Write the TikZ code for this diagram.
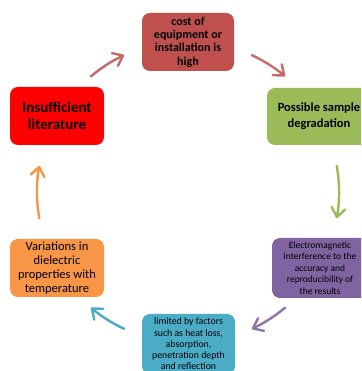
\documentclass[tikz,border=0pt]{standalone}
\usepackage{fontspec}
\setmainfont{Carlito}
\usetikzlibrary{arrows.meta,calc}
\definecolor{cCost}{HTML}{C0504D}
\definecolor{cGreen}{HTML}{9BBB59}
\definecolor{cPurple}{HTML}{8064A2}
\definecolor{cBlue}{HTML}{4BACC6}
\definecolor{cOrange}{HTML}{F79646}
\definecolor{cRed}{HTML}{FF0000}
\begin{document}
\begin{tikzpicture}[x=1pt,y=1pt,
  box/.style={rounded corners=8pt, inner sep=0pt, align=center, text=black},
  cyc/.style={line width=2.4pt, line cap=round, line join=round,
    -{Straight Barb[length=9pt,width=14pt,line cap=round,line join=round]}}]
\useasboundingbox (0,0) rectangle (361,371);
\clip (0,0) rectangle (361,371);
\fill[white] (0,0) rectangle (361,371);
\coordinate (C) at (188,179);

\node[box, fill=cCost, minimum width=92pt, minimum height=58pt,
  font=\fontsize{12}{13.3}\selectfont\bfseries] (cost) at (188,329)
  {cost of\\equipment or\\installation is\\high};
\node[box, fill=cGreen, minimum width=104pt, minimum height=57pt,
  font=\fontsize{12.5}{16}\selectfont\bfseries] (degr) at (319,254.5)
  {Possible sample\\degradation};
\node[box, fill=cPurple, minimum width=96pt, minimum height=60pt,
  font=\fontsize{9.5}{11.5}\selectfont] (emi) at (320,103)
  {Electromagnetic\\interference to the\\accuracy and\\reproducibility of\\the results};
\node[box, fill=cBlue, minimum width=93pt, minimum height=60pt,
  font=\fontsize{9.8}{11.3}\selectfont] (lim) at (188.5,27)
  {limited by factors\\such as heat loss,\\absorption,\\penetration depth\\and reflection};
\node[box, fill=cOrange, minimum width=94pt, minimum height=58pt,
  font=\fontsize{12.5}{14}\selectfont] (var) at (57,103)
  {Variations in\\dielectric\\properties with\\temperature};
\node[box, fill=cRed, minimum width=94pt, minimum height=58pt,
  font=\fontsize{15}{16.5}\selectfont\bfseries] (lit) at (57,255)
  {Insufficient\\literature};

\coordinate (a1) at ($(C)+(130:151)$);
\coordinate (a2) at ($(C)+(65:151)$);
\coordinate (a3) at ($(C)+(10:151)$);
\coordinate (a4) at ($(C)+(-50:151)$);
\coordinate (a5) at ($(C)+(-115:151)$);
\coordinate (a6) at ($(C)+(190:151)$);

\draw[cyc, draw=cCost!85!white] (a1) arc[start angle=130, end angle=115, radius=151];
\draw[cyc, draw=cCost!85!white] (a2) arc[start angle=65, end angle=50, radius=151];
\draw[cyc, draw=cGreen] (a3) arc[start angle=10, end angle=-10, radius=151];
\draw[cyc, draw=cPurple!90!white] (a4) arc[start angle=-50, end angle=-65, radius=151];
\draw[cyc, draw=cBlue] (a5) arc[start angle=-115, end angle=-130, radius=151];
\draw[cyc, draw=cOrange] (a6) arc[start angle=190, end angle=170, radius=151];
\end{tikzpicture}
\end{document}
